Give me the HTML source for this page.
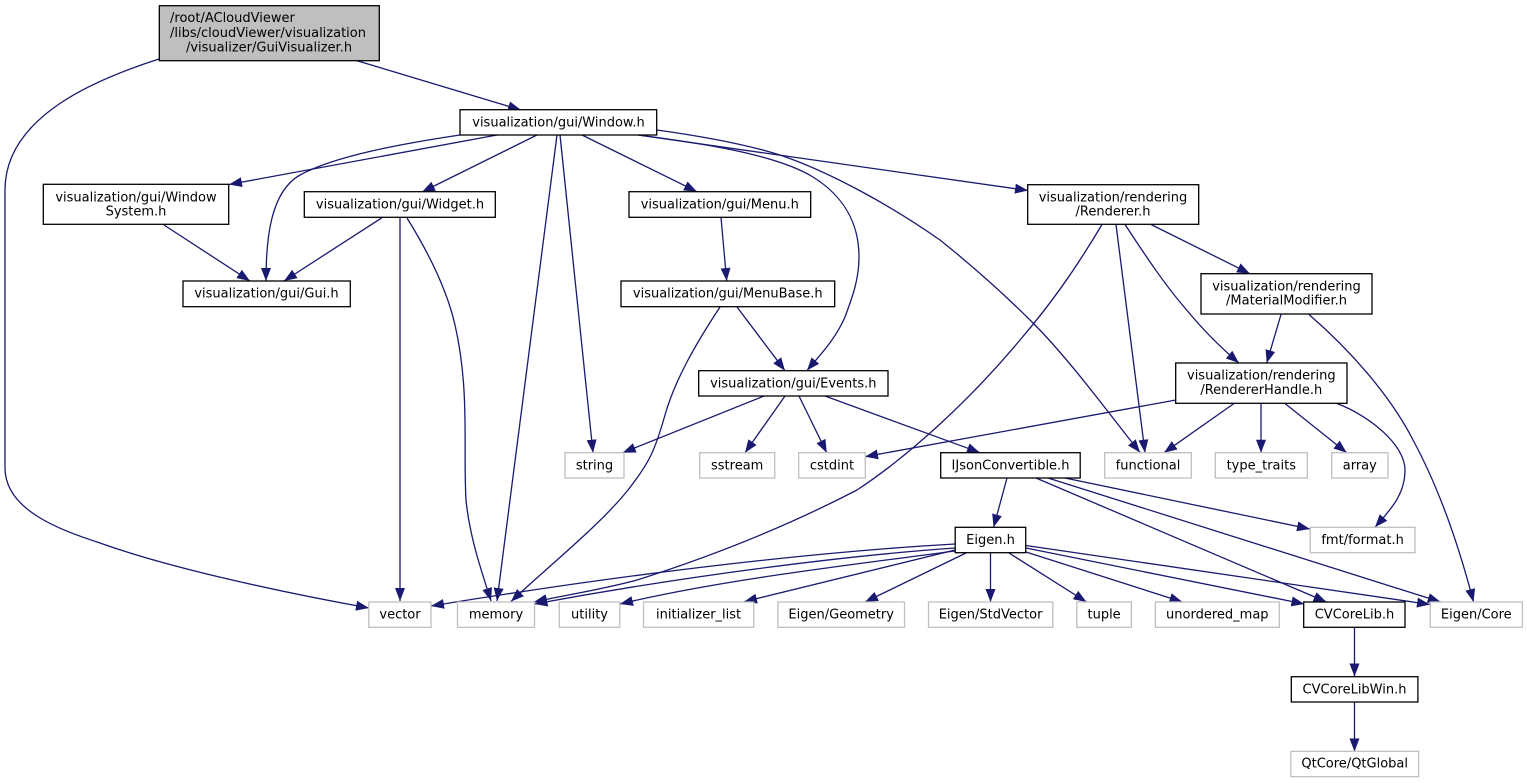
<!DOCTYPE html>
<html><head><meta charset="utf-8"><style>
html,body{margin:0;padding:0;background:#fff;width:1527px;height:783px;overflow:hidden}
svg{display:block}
text{font-family:"DejaVu Sans","Liberation Sans",sans-serif;font-size:13px;fill:#000;text-anchor:middle}
.e path{fill:none;stroke:#191970;stroke-width:1.3;marker-end:url(#a)}
.n rect{fill:#fff;stroke:#000;stroke-width:1.3}
.g rect{fill:#fff;stroke:#bfbfbf;stroke-width:1.3}
</style></head><body>
<svg width="1527" height="783" viewBox="0 0 1527 783" xmlns="http://www.w3.org/2000/svg">
<defs><marker id="a" markerUnits="userSpaceOnUse" markerWidth="14" markerHeight="11" refX="13" refY="5.5" orient="auto"><polygon points="0,0.5 13,5.5 0,10.5" fill="#191970"/></marker></defs>
<g class="e">
<path d="M159,59 C100,78 5,115 5,190 L5,468 C5,510 60,530 100,543 C170,568 280,592 369,608"/>
<path d="M357,60.7 L521,110"/>
<path d="M497,135 L229,184.5"/>
<path d="M460,135 C400,144 335,156 300,175 C270,192 266,240 266,281"/>
<path d="M537,135 L422,192"/>
<path d="M164,225 L250,281"/>
<path d="M382,217.7 L284,281"/>
<path d="M400,218 L400,601"/>
<path d="M407,218 C430,255 447,290 455,325 C470,390 463,450 466,500 C470,540 483,575 491,601"/>
<path d="M557,135 L497,601"/>
<path d="M560,135 L593,452.7"/>
<path d="M582,135 L697,191.7"/>
<path d="M638,135 C700,143 775,154 813,177 C845,197 859,225 859,257 C859,280 852,298 845,317 C835,340 820,355 807,370.5"/>
<path d="M638,135 L1028,190.5"/>
<path d="M657,130 C700,136 745,144 780,155 C830,172 890,205 940,240 C975,268 1005,295 1033,323 C1070,360 1110,415 1140,452.5"/>
<path d="M721,217.5 L726.7,281"/>
<path d="M720,307 C695,345 675,380 665,415 C655,450 650,462 628,490 C600,525 550,565 511,601.5"/>
<path d="M737,307 L785,370.7"/>
<path d="M764,396 L622.7,452.7"/>
<path d="M785,396 L745,452.7"/>
<path d="M799,396 L826.7,452.7"/>
<path d="M825,396 L980,452.7"/>
<path d="M1102,224.5 C1075,270 1050,305 1020,340 C970,400 910,455 857,490 C780,530 700,560 637,580 C600,590 565,595 534,602"/>
<path d="M1116,224.5 L1145,452.7"/>
<path d="M1125,224.5 C1145,255 1165,285 1185,308 C1203,330 1220,347 1239,363"/>
<path d="M1151,224.5 L1250,273.7"/>
<path d="M1281,314.5 L1266.7,363"/>
<path d="M1309,314.5 C1350,350 1390,395 1413,440 C1440,490 1460,550 1473.5,602"/>
<path d="M1176,400 L865,456.7"/>
<path d="M1234,403.5 L1164,452.7"/>
<path d="M1261,403.5 L1261,452.7"/>
<path d="M1285,403.5 L1346.7,452.7"/>
<path d="M1337,403.5 C1370,416 1405,445 1405,470 C1405,495 1390,510 1375,527.3"/>
<path d="M1007,478 L993.6,527.3"/>
<path d="M1065,478 L1310,529"/>
<path d="M1048,478 L1440.7,602"/>
<path d="M1036,478 L1326.5,602"/>
<path d="M955,544 C830,551 650,570 431,606"/>
<path d="M955,548 C840,556 680,577 534.5,604"/>
<path d="M955,551 C850,565 720,580 620,604"/>
<path d="M955,550 L744,601.7"/>
<path d="M966,553 L865,602"/>
<path d="M990.5,553 L990.5,602"/>
<path d="M1009,553 L1086.5,602"/>
<path d="M1026,552 L1182.5,602"/>
<path d="M1026,548 L1304.4,604"/>
<path d="M1026,545.5 L1430,604.5"/>
<path d="M1354.5,627.5 L1354.5,676.5"/>
<path d="M1354.5,702 L1354.5,751.5"/>
</g>
<g class="n">
<rect x="159.3" y="5.7" width="220" height="55" style="fill:#bfbfbf"/>
<text x="170" y="22" style="text-anchor:start">/root/ACloudViewer</text>
<text x="170" y="37" style="text-anchor:start">/libs/cloudViewer/visualization</text>
<text x="269" y="51.5">/visualizer/GuiVisualizer.h</text>
<rect x="460" y="109.7" width="196.7" height="25.3"/><text x="558.5" y="126.5">visualization/gui/Window.h</text>
<rect x="43.3" y="184.3" width="185.4" height="40"/><text x="136" y="201.3">visualization/gui/Window</text><text x="136" y="215.5">System.h</text>
<rect x="304.3" y="191.7" width="191" height="25.6"/><text x="400" y="208.3">visualization/gui/Widget.h</text>
<rect x="183" y="281" width="167.3" height="25.7"/><text x="266.5" y="297.7">visualization/gui/Gui.h</text>
<rect x="629" y="191.7" width="181.7" height="25.6"/><text x="719.8" y="208.3">visualization/gui/Menu.h</text>
<rect x="621" y="281" width="213.7" height="25.7"/><text x="727.8" y="297.7">visualization/gui/MenuBase.h</text>
<rect x="698.7" y="370.7" width="189.3" height="25.3"/><text x="793.3" y="387.3">visualization/gui/Events.h</text>
<rect x="940.7" y="452.7" width="139.5" height="25.3"/><text x="1010.5" y="469.3">IJsonConvertible.h</text>
<rect x="1027.7" y="184.7" width="171" height="39.6"/><text x="1113" y="201.3">visualization/rendering</text><text x="1113" y="215.5">/Renderer.h</text>
<rect x="1201" y="273.7" width="171" height="40.3"/><text x="1286.5" y="290.3">visualization/rendering</text><text x="1286.5" y="304.5">/MaterialModifier.h</text>
<rect x="1175.7" y="363" width="171.3" height="40.3"/><text x="1261.3" y="379.5">visualization/rendering</text><text x="1261.3" y="394">/RendererHandle.h</text>
<rect x="955.2" y="527.3" width="70.5" height="25.4"/><text x="990.5" y="544">Eigen.h</text>
<rect x="1303.7" y="602" width="101.3" height="25.3"/><text x="1354.5" y="618.5">CVCoreLib.h</text>
<rect x="1291.3" y="676.7" width="126.6" height="25.3"/><text x="1354.5" y="693.3">CVCoreLibWin.h</text>
</g>
<g class="g">
<rect x="565" y="452.7" width="59" height="25.3"/><text x="594.5" y="469.3">string</text>
<rect x="699.7" y="452.7" width="75" height="25.3"/><text x="737.2" y="469.3">sstream</text>
<rect x="798.7" y="452.7" width="66.6" height="25.3"/><text x="832" y="469.3">cstdint</text>
<rect x="1104.7" y="452.7" width="86.6" height="25.3"/><text x="1148" y="469.3">functional</text>
<rect x="1215.3" y="452.7" width="92" height="25.3"/><text x="1261.3" y="469.3">type_traits</text>
<rect x="1331.7" y="452.7" width="56.3" height="25.3"/><text x="1359.8" y="469.3">array</text>
<rect x="1310.2" y="527.3" width="104.8" height="25.4"/><text x="1362.6" y="544">fmt/format.h</text>
<rect x="368.8" y="602" width="62.2" height="25.3"/><text x="400" y="618.5">vector</text>
<rect x="457.5" y="602" width="77" height="25.3"/><text x="496" y="618.5">memory</text>
<rect x="559.3" y="602" width="60.5" height="25.3"/><text x="589.5" y="618.5">utility</text>
<rect x="643.5" y="602" width="110.2" height="25.3"/><text x="698.6" y="618.5">initializer_list</text>
<rect x="777.9" y="602" width="126.6" height="25.3"/><text x="841.2" y="618.5">Eigen/Geometry</text>
<rect x="928.5" y="602" width="124.3" height="25.3"/><text x="990.6" y="618.5">Eigen/StdVector</text>
<rect x="1076.8" y="602" width="54.6" height="25.3"/><text x="1104.1" y="618.5">tuple</text>
<rect x="1155.4" y="602" width="123.9" height="25.3"/><text x="1217.3" y="618.5">unordered_map</text>
<rect x="1430.3" y="602" width="92.1" height="25.3"/><text x="1476.3" y="618.5">Eigen/Core</text>
<rect x="1290.9" y="751.3" width="127.7" height="25.4"/><text x="1354.7" y="767.5">QtCore/QtGlobal</text>
</g>
</svg>
</body></html>
